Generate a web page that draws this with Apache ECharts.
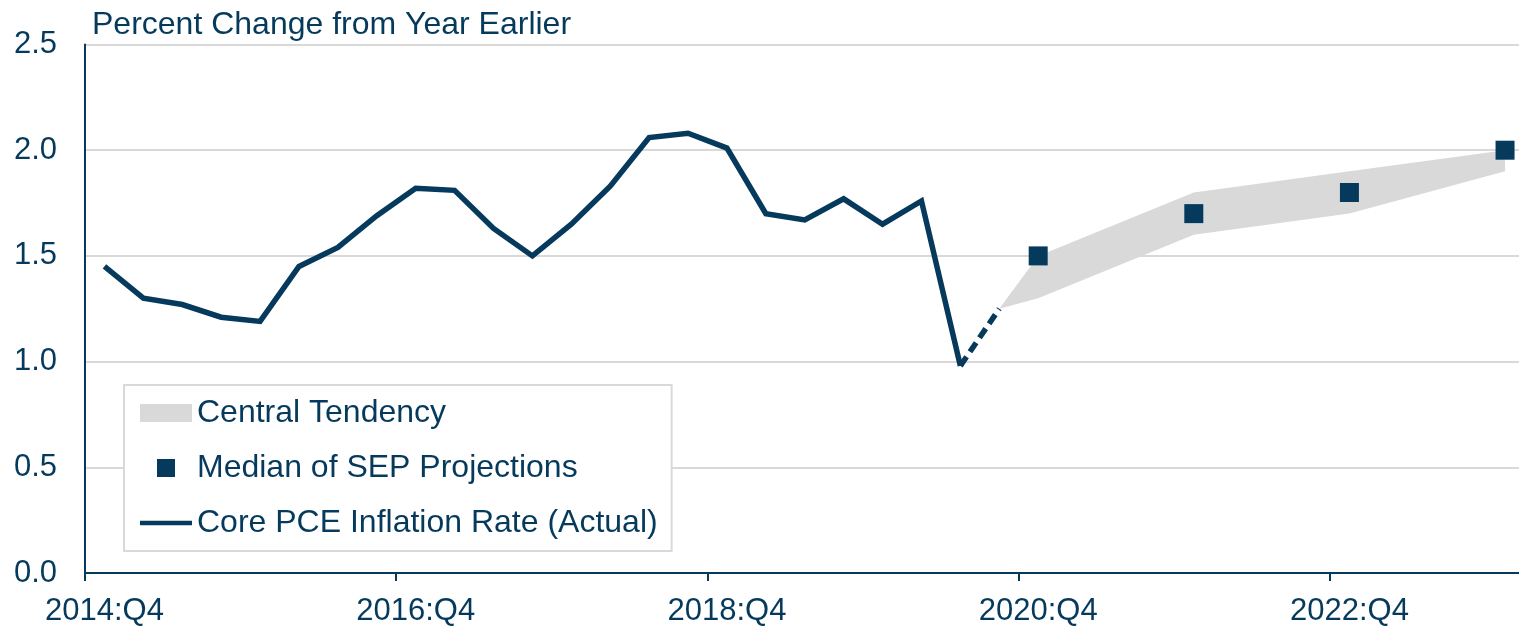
<!DOCTYPE html>
<html>
<head>
<meta charset="utf-8">
<script src="https://cdn.jsdelivr.net/npm/echarts@6/dist/echarts.min.js"></script>
<style>
  html, body { margin: 0; padding: 0; background: #ffffff; }
  #chart { width: 1519px; height: 627px; }
</style>
</head>
<body>
<div id="chart"></div>
<script>
// ---- data ----
const quarters = [
  '2014:Q4','2015:Q1','2015:Q2','2015:Q3','2015:Q4','2016:Q1','2016:Q2','2016:Q3',
  '2016:Q4','2017:Q1','2017:Q2','2017:Q3','2017:Q4','2018:Q1','2018:Q2','2018:Q3',
  '2018:Q4','2019:Q1','2019:Q2','2019:Q3','2019:Q4','2020:Q1','2020:Q2','2020:Q3',
  '2020:Q4','2021:Q1','2021:Q2','2021:Q3','2021:Q4','2022:Q1','2022:Q2','2022:Q3',
  '2022:Q4','2023:Q1','2023:Q2','2023:Q3','2023:Q4'
];
// Core PCE inflation (actual), 2014:Q4 .. 2020:Q2
const corePCE = [1.45, 1.30, 1.27, 1.21, 1.19, 1.45, 1.54, 1.69, 1.82, 1.81, 1.63, 1.50,
                 1.65, 1.83, 2.06, 2.08, 2.01, 1.70, 1.67, 1.77, 1.65, 1.76, 0.98];
// Dashed estimate segment
const estQuarters = ['2020:Q2', '2020:Q3'];
const estValues = [0.98, 1.25];
// Central tendency band
const bandQuarters = ['2020:Q3', '2020:Q4', '2021:Q4', '2022:Q4', '2023:Q4'];
const bandLow  = [1.25, 1.3, 1.6, 1.7, 1.9];
const bandHigh = [1.25, 1.5, 1.8, 1.9, 2.0];
// Median of SEP projections
const sepQuarters = ['2020:Q4', '2021:Q4', '2022:Q4', '2023:Q4'];
const sepMedian = [1.5, 1.7, 1.8, 2.0];
// Y ticks
const yMin = 0, yMax = 2.5, yStep = 0.5;

// ---- styling ----
const NAVY = '#063a5c';
const GRAY = '#d9d9d9';
const FONT = '"Liberation Sans", Arial, sans-serif';
const FS_AXIS = 31;
const FS_TEXT = 32;

const chart = echarts.init(document.getElementById('chart'), null, { renderer: 'canvas' });

const bandData = bandQuarters.map((q, i) => [quarters.indexOf(q), bandLow[i], bandHigh[i]]);
const estData = estQuarters.map((q, i) => [q, estValues[i]]);
const sepData = sepQuarters.map((q, i) => [q, sepMedian[i]]);

const option = {
  animation: false,
  backgroundColor: '#ffffff',
  title: {
    text: 'Percent Change from Year Earlier',
    left: 92, top: 9, padding: 0,
    textStyle: { color: NAVY, fontFamily: FONT, fontSize: FS_TEXT, fontWeight: 'normal' }
  },
  grid: { left: 85, top: 44.5, width: 1439.5, height: 528.5, containLabel: false, outerBoundsMode: 'none' },
  legend: {
    orient: 'vertical',
    left: 124, top: 385,
    padding: [12, 14, 12, 16],
    itemGap: 23,
    itemWidth: 52, itemHeight: 18,
    backgroundColor: '#ffffff',
    borderColor: GRAY, borderWidth: 2, borderRadius: 0,
    selectedMode: false,
    textStyle: { color: NAVY, fontFamily: FONT, fontSize: FS_TEXT },
    data: [
      { name: 'Central Tendency', icon: 'rect' },
      { name: 'Median of SEP Projections', icon: 'path://M0,0H10V10H0Z' },
      { name: 'Core PCE Inflation Rate (Actual)', icon: 'path://M0,0H55V5H0Z' }
    ]
  },
  xAxis: {
    type: 'category',
    data: quarters,
    boundaryGap: true,
    axisLine: { show: true, lineStyle: { color: NAVY, width: 2 } },
    axisTick: { show: true, interval: 7, length: 8, lineStyle: { color: NAVY, width: 2 } },
    axisLabel: { interval: 7, margin: 23, color: NAVY, fontFamily: FONT, fontSize: FS_AXIS },
    splitLine: { show: false }
  },
  yAxis: {
    type: 'value',
    min: yMin, max: yMax, interval: yStep,
    axisLine: { show: true, lineStyle: { color: NAVY, width: 2 } },
    axisTick: { show: false },
    axisLabel: { margin: 28, color: NAVY, fontFamily: FONT, fontSize: FS_AXIS,
                 formatter: v => v.toFixed(1) },
    splitLine: { show: true, lineStyle: { color: GRAY, width: 2 } }
  },
  series: [
    {
      name: 'Central Tendency',
      type: 'custom',
      z: 1,
      itemStyle: { color: GRAY },
      data: bandData,
      renderItem: function (params, api) {
        if (params.dataIndex !== 0) return null;
        const upper = bandData.map(d => api.coord([d[0], d[2]]));
        const lower = bandData.map(d => api.coord([d[0], d[1]])).reverse();
        return {
          type: 'polygon',
          shape: { points: upper.concat(lower) },
          style: { fill: GRAY, stroke: null }
        };
      }
    },
    {
      name: 'Core PCE Inflation Rate (Actual)',
      type: 'line',
      z: 3,
      data: corePCE,
      symbol: 'none',
      color: NAVY,
      itemStyle: { color: NAVY },
      lineStyle: { color: NAVY, width: 5.5, join: 'miter', cap: 'butt' }
    },
    {
      name: 'Core PCE estimate',
      type: 'line',
      z: 3,
      data: estData,
      symbol: 'none',
      color: NAVY,
      lineStyle: { color: NAVY, width: 5.5, type: [11, 6], cap: 'butt' }
    },
    {
      name: 'Median of SEP Projections',
      type: 'scatter',
      z: 4,
      data: sepData,
      symbol: 'rect',
      symbolSize: 19,
      itemStyle: { color: NAVY, opacity: 1 }
    }
  ]
};

chart.setOption(option);
</script>
</body>
</html>
